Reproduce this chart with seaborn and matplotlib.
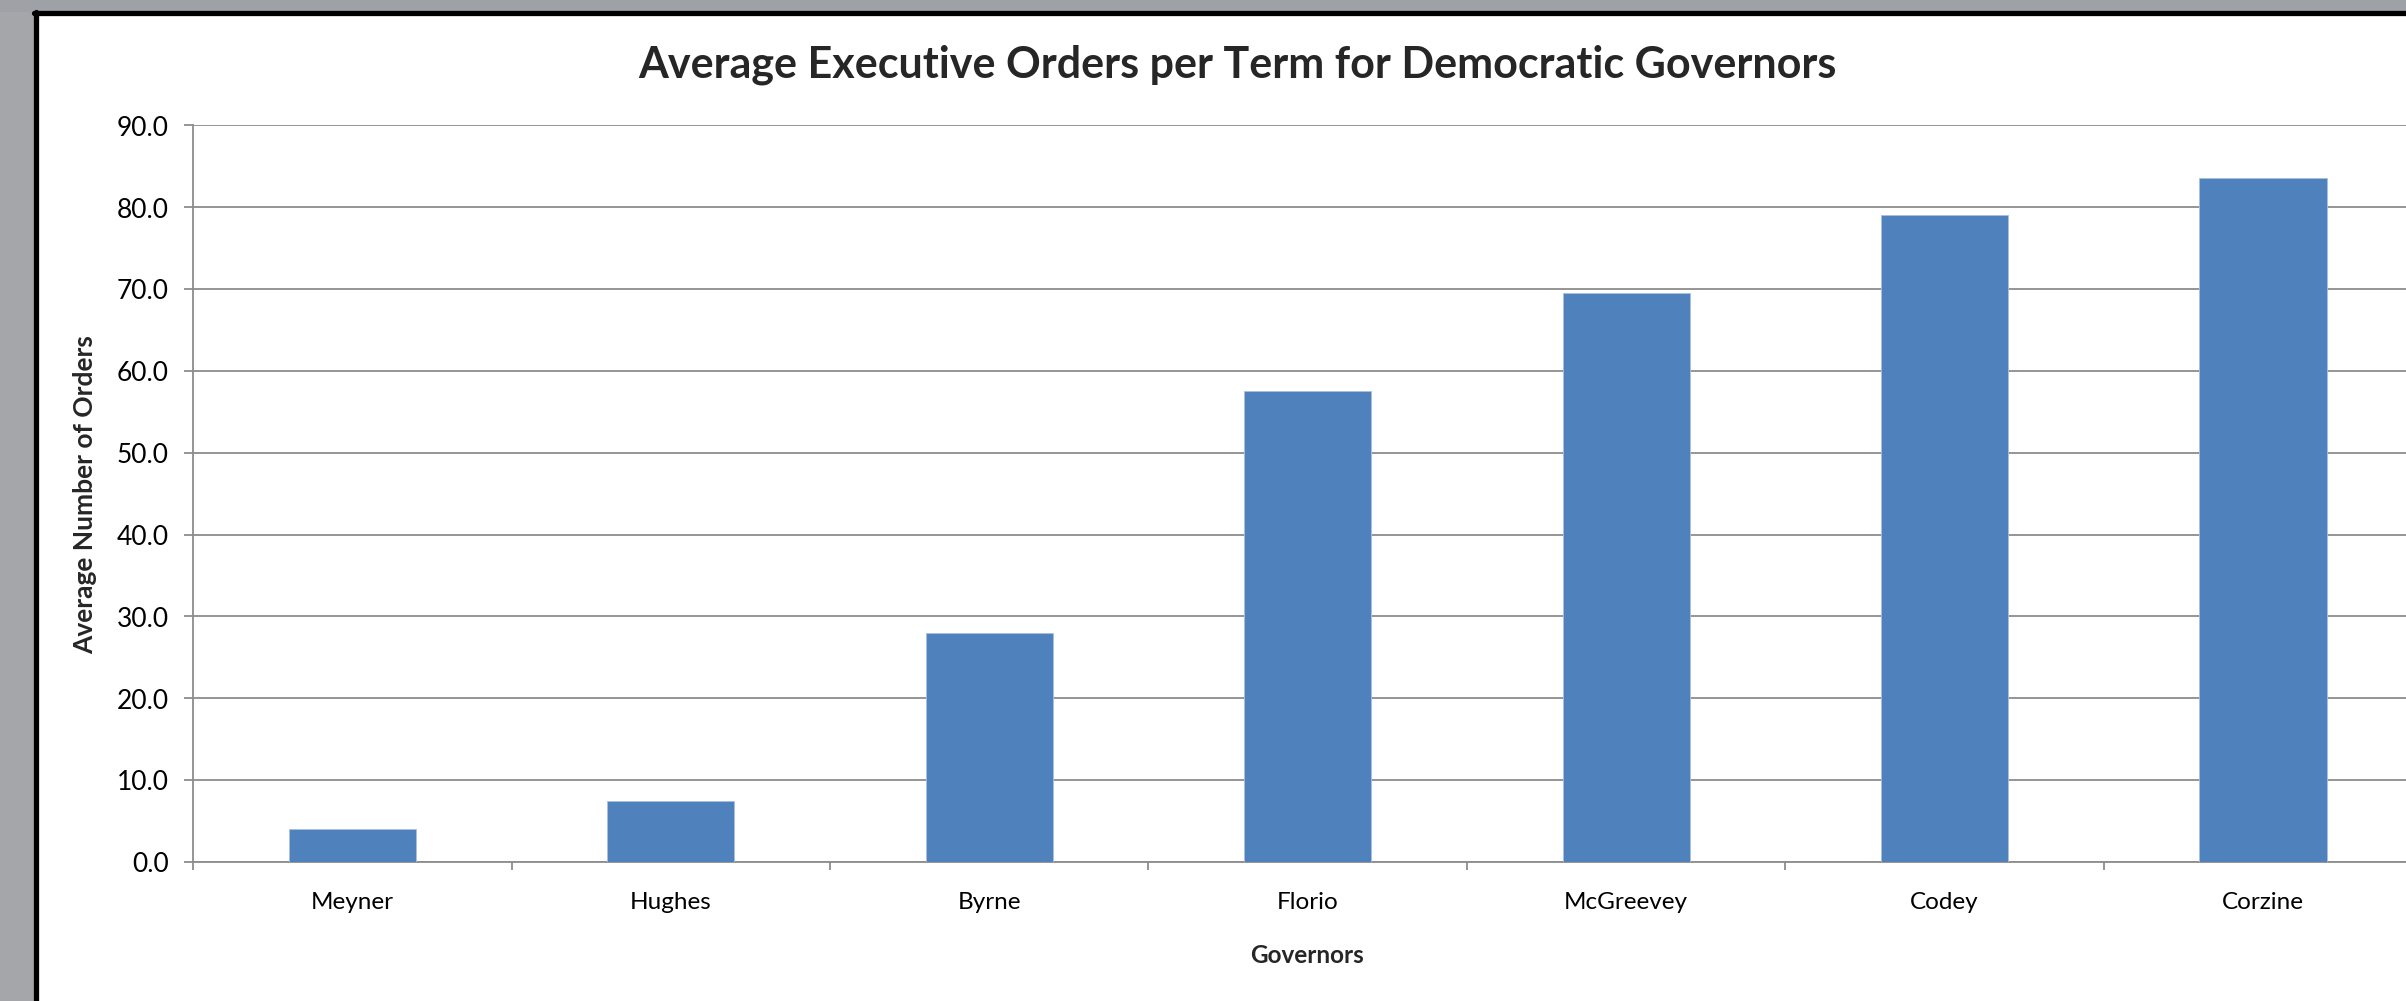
import numpy as np
import pandas as pd
import seaborn as sns
from matplotlib import pyplot as plt
from matplotlib.lines import Line2D
from matplotlib.patches import Rectangle
from matplotlib.ticker import FixedLocator, FormatStrFormatter

governors = ['Meyner', 'Hughes', 'Byrne', 'Florio', 'McGreevey', 'Codey', 'Corzine']
avg_orders = [4.0, 7.5, 28.0, 57.5, 69.5, 79.0, 83.5]

data = pd.DataFrame({'Governor': governors, 'Orders': avg_orders})

sns.set_style('white')
plt.rcParams['font.family'] = ['Lato', 'DejaVu Sans']
plt.rcParams['savefig.bbox'] = 'standard'

W, H = 2406, 1001
# +0.4 px so that int() of the pixel size does not round down
fig = plt.figure(figsize=((W + 0.4) / 100, (H + 0.4) / 100), dpi=100, facecolor='white')

# grey screenshot background strips (left and top) + black chart frame
fig.add_artist(Rectangle((0, 0), 34 / W, 1, transform=fig.transFigure,
                         facecolor='#a4a6aa', edgecolor='none', zorder=-10))
fig.add_artist(Rectangle((0, 1 - 12 / H), 1, 12 / H, transform=fig.transFigure,
                         facecolor='#9ea1a6', edgecolor='none', zorder=-10))
fig.add_artist(Line2D([35.5 / W, 35.5 / W], [0, 1 - 12 / H], transform=fig.transFigure,
                      color='black', linewidth=3.8))
fig.add_artist(Line2D([34 / W, 1], [1 - 13.5 / H, 1 - 13.5 / H], transform=fig.transFigure,
                      color='black', linewidth=3.8))

# plot area runs off the right edge of the screenshot
left = 193 / W
bottom = 139 / H
top = 875.4 / H
ax = fig.add_axes([left, bottom, 1 - left, top - bottom])
ax.set_facecolor('none')

sns.barplot(data=data, x='Governor', y='Orders', color='#4f81bd', saturation=1,
            width=0.4, edgecolor='#a9c0de', linewidth=0.6, ax=ax, zorder=3)

n = len(governors)
ax.set_ylim(0, 90)
ax.set_xlim(-0.5, -0.5 + n * (W - 193) / (2422 - 193))
ax.yaxis.set_major_locator(FixedLocator(np.arange(0, 91, 10)))
ax.yaxis.set_major_formatter(FormatStrFormatter('%.1f'))
ax.grid(axis='y', color='#8c8c8c', linewidth=1.3, zorder=0)
ax.set_axisbelow(True)

for s in ['top', 'right']:
    ax.spines[s].set_visible(False)
for s in ['left', 'bottom']:
    ax.spines[s].set_color('#8c8c8c')
    ax.spines[s].set_linewidth(1.3)

ax.tick_params(axis='y', which='major', left=True, length=6.5, width=1.3,
               color='#8c8c8c', labelsize=19, pad=11, labelcolor='black')
ax.tick_params(axis='x', which='major', bottom=False, labelsize=17.5, pad=18,
               labelcolor='black')
ax.xaxis.set_minor_locator(FixedLocator(np.arange(-0.5, n - 1, 1.0)))
ax.tick_params(axis='x', which='minor', bottom=True, length=6, width=1.3,
               color='#8c8c8c')

ax.set_xlabel('Governors', fontsize=17.5, fontweight='bold')
ax.xaxis.set_label_coords((1307 - 193) / (W - 193), -(955 - 862) / (862 - 125.6))
ax.xaxis.label.set_va('center')
ax.set_ylabel('Average Number of Orders', fontsize=19, fontweight='bold')
ax.yaxis.set_label_coords(-(193 - 97) / (W - 193), (862 - 494) / (862 - 125.6))

fig.text(1237 / W, 1 - 65 / H, 'Average Executive Orders per Term for Democratic Governors',
         ha='center', va='center', fontsize=31, fontweight='bold')

fig.savefig('out.png', dpi=100, facecolor='white')
